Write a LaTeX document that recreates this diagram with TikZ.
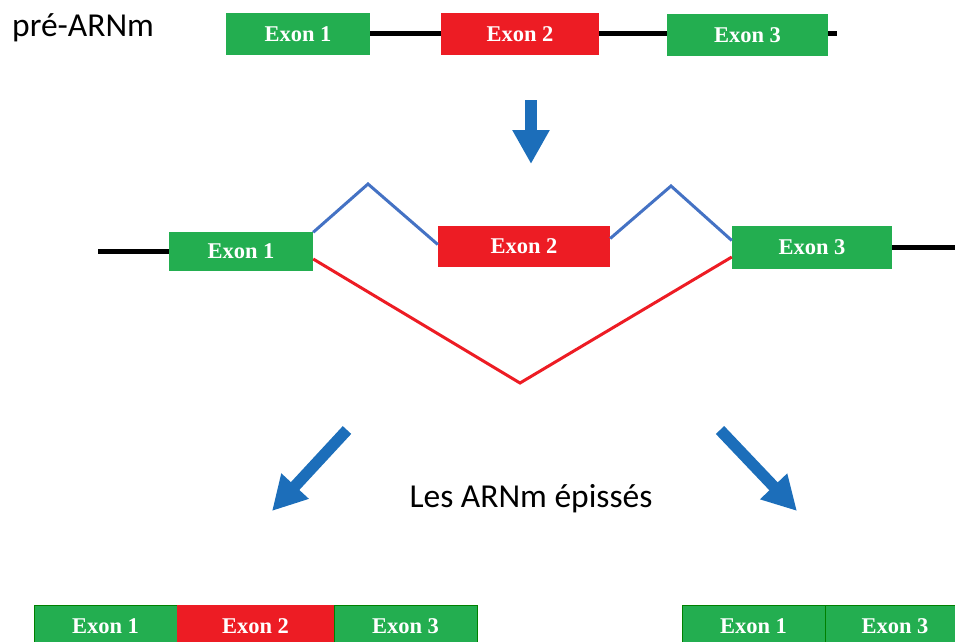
\documentclass[tikz,border=0pt]{standalone}
\usepackage{fontspec}
\setmainfont{Liberation Serif}
\newfontfamily\calib{Carlito}
\usetikzlibrary{arrows.meta,calc}
\definecolor{exgreen}{RGB}{35,174,80}
\definecolor{exred}{RGB}{237,28,36}
\definecolor{lineblue}{RGB}{68,114,196}
\definecolor{arrblue}{RGB}{28,110,186}
\tikzset{
  exon/.style={inner sep=0pt, font=\fontsize{22.5}{22.5}\selectfont\bfseries, text=white},
  gexon/.style={exon, fill=exgreen},
  rexon/.style={exon, fill=exred},
  intron/.style={line width=5pt, black},
  bluesplice/.style={line width=3pt, lineblue},
  redsplice/.style={line width=3pt, exred},
  bigarrow/.style={line width=11.5pt, arrblue, -{Triangle[width=35pt,length=34pt]}},
  label/.style={inner sep=0pt, font=\calib\fontsize{33.5}{33.5}\selectfont}
}
\begin{document}
\begin{tikzpicture}[x=1pt,y=-1pt]
\useasboundingbox (0,0) rectangle (955,642);
% top row
\node[label, anchor=base west] (pre) at (12,37) {pré-ARNm};
\coordinate (tend) at (837,34);
\node[gexon, minimum width=144pt, minimum height=42pt] (T1) at (298,34) {Exon 1};
\node[rexon, minimum width=158pt, minimum height=42pt] (T2) at (520,34) {Exon 2};
\node[gexon, minimum width=161pt, minimum height=42pt] (T3) at (747.5,35) {Exon 3};
\draw[intron] (T1.east) -- (T2.west);
\draw[intron] (T2.east) -- ($(T3.west)+(0,-1)$);
\draw[intron] ($(T3.east)+(0,-1)$) -- (tend);
% down arrow
\coordinate (d0) at (531,100);
\coordinate (d1) at (531,164);
\draw[bigarrow] (d0) -- (d1);
% middle row
\coordinate (mleft) at (98,251);
\coordinate (mright) at (955,247.5);
\node[gexon, minimum width=144pt, minimum height=39pt] (M1) at (241,251) {Exon 1};
\node[rexon, minimum width=172pt, minimum height=41pt] (M2) at (524,246.5) {Exon 2};
\node[gexon, minimum width=160pt, minimum height=43pt] (M3) at (812,247.5) {Exon 3};
\draw[intron] (mleft) -- (M1.west);
\draw[intron] (M3.east) -- (mright);
\coordinate (p1) at (368,184);
\coordinate (p2) at (671,186);
\coordinate (pr) at (520,383);
\draw[bluesplice] ($(M1.north east)+(0,1)$) -- (p1) -- ($(M2.west)+(0,-2)$);
\draw[bluesplice] ($(M2.east)+(0,-8)$) -- (p2) -- ($(M3.west)+(0,-7)$);
\draw[redsplice] ($(M1.east)+(0,8)$) -- (pr) -- ($(M3.west)+(0,9.5)$);
% diagonal arrows
\coordinate (l0) at (347,430);
\coordinate (l1) at (272,511);
\coordinate (r0) at (720,430);
\coordinate (r1) at (797,511);
\draw[bigarrow] (l0) -- (l1);
\draw[bigarrow] (r0) -- (r1);
\node[label, anchor=base] (spl) at (531,507) {Les ARNm épissés};
% bottom row
\node[gexon, draw=green!50!black, line width=0.5pt, minimum width=143pt, minimum height=42pt] (B1) at (105.5,626) {Exon 1};
\node[rexon, minimum width=157pt, minimum height=42pt] (B2) at (255.5,626) {Exon 2};
\node[gexon, draw=green!50!black, line width=0.5pt, minimum width=143pt, minimum height=42pt] (B3) at (405.5,626) {Exon 3};
\node[gexon, draw=green!50!black, line width=0.5pt, minimum width=143pt, minimum height=42pt] (C1) at (753.5,626) {Exon 1};
\node[gexon, draw=green!50!black, line width=0.5pt, minimum width=140pt, minimum height=42pt] (C3) at (895,626) {Exon 3};
\end{tikzpicture}
\end{document}
